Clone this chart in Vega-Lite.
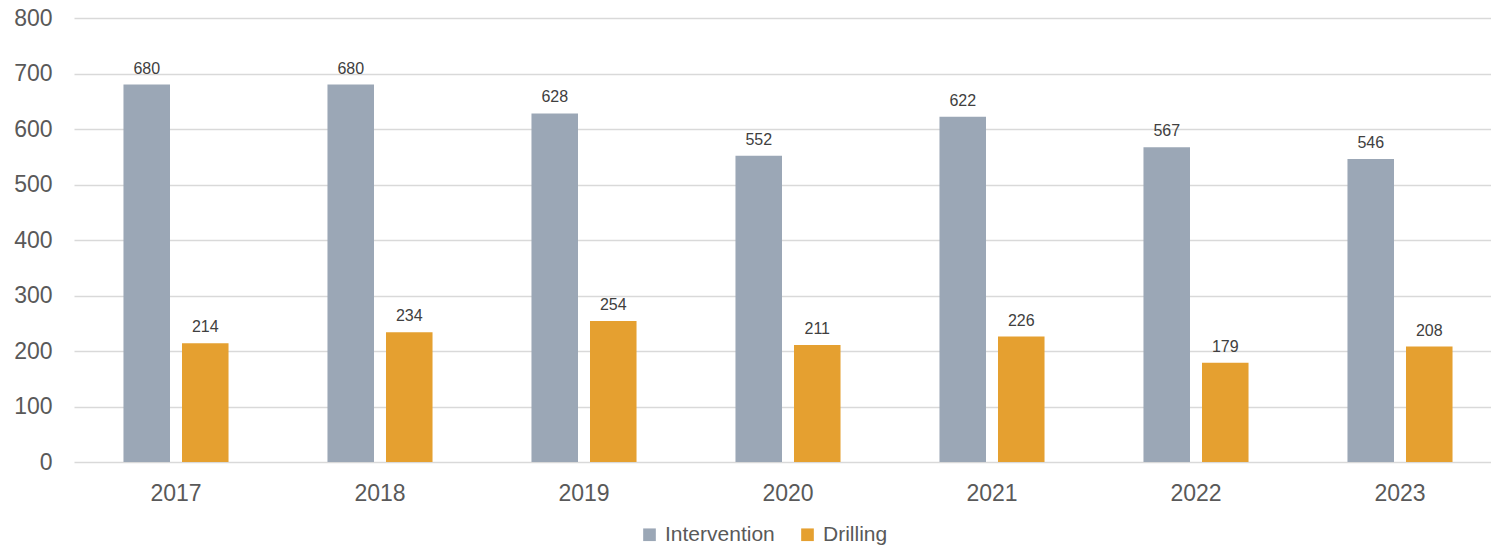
{
  "$schema": "https://vega.github.io/schema/vega-lite/v6.json",
  "width": 1419,
  "height": 444,
  "autosize": {"type": "none"},
  "padding": {"left": 72, "top": 18, "right": 0, "bottom": 85},
  "background": "white",
  "config": {
    "view": {"stroke": null},
    "font": "Liberation Sans"
  },
  "data": {
    "values": [
      {"year": "2017", "series": "Intervention", "value": 680},
      {"year": "2017", "series": "Drilling", "value": 214},
      {"year": "2018", "series": "Intervention", "value": 680},
      {"year": "2018", "series": "Drilling", "value": 234},
      {"year": "2019", "series": "Intervention", "value": 628},
      {"year": "2019", "series": "Drilling", "value": 254},
      {"year": "2020", "series": "Intervention", "value": 552},
      {"year": "2020", "series": "Drilling", "value": 211},
      {"year": "2021", "series": "Intervention", "value": 622},
      {"year": "2021", "series": "Drilling", "value": 226},
      {"year": "2022", "series": "Intervention", "value": 567},
      {"year": "2022", "series": "Drilling", "value": 179},
      {"year": "2023", "series": "Intervention", "value": 546},
      {"year": "2023", "series": "Drilling", "value": 208}
    ]
  },
  "encoding": {
    "x": {
      "field": "year", "type": "nominal",
      "scale": {"range": [2, 1430], "paddingInner": 0.485, "paddingOuter": 0.2425},
      "axis": {
        "title": null, "labelAngle": 0, "domain": false, "ticks": false,
        "labelFontSize": 23, "labelColor": "#595959", "labelPadding": 20,
        "grid": false
      }
    },
    "xOffset": {
      "field": "series", "type": "nominal",
      "sort": ["Intervention", "Drilling"],
      "scale": {"paddingInner": 0.205, "paddingOuter": 0}
    },
    "y": {
      "field": "value", "type": "quantitative",
      "scale": {"domain": [0, 800]},
      "axis": {
        "title": null, "values": [0,100,200,300,400,500,600,700,800],
        "labelOverlap": false, "labelFlush": false,
        "domain": false, "ticks": false,
        "labelFontSize": 23, "labelColor": "#595959", "labelPadding": 20,
        "gridColor": "#D9D9D9", "gridWidth": 1.5
      }
    }
  },
  "layer": [
    {
      "mark": {"type": "bar"},
      "encoding": {
        "color": {
          "field": "series", "type": "nominal",
          "sort": ["Intervention", "Drilling"],
          "scale": {"domain": ["Intervention", "Drilling"], "range": ["#9BA7B6", "#E5A030"]},
          "legend": {
            "title": null, "orient": "none", "direction": "horizontal",
            "legendX": 567, "legendY": 506,
            "symbolType": "square", "symbolSize": 160, "symbolStrokeWidth": 0,
            "labelFontSize": 21, "labelColor": "#595959", "labelOffset": 5,
            "columnPadding": 22
          }
        }
      }
    },
    {
      "mark": {"type": "text", "baseline": "alphabetic", "dy": -11, "fontSize": 16, "color": "#404040"},
      "encoding": {
        "text": {"field": "value", "type": "quantitative"}
      }
    }
  ]
}
